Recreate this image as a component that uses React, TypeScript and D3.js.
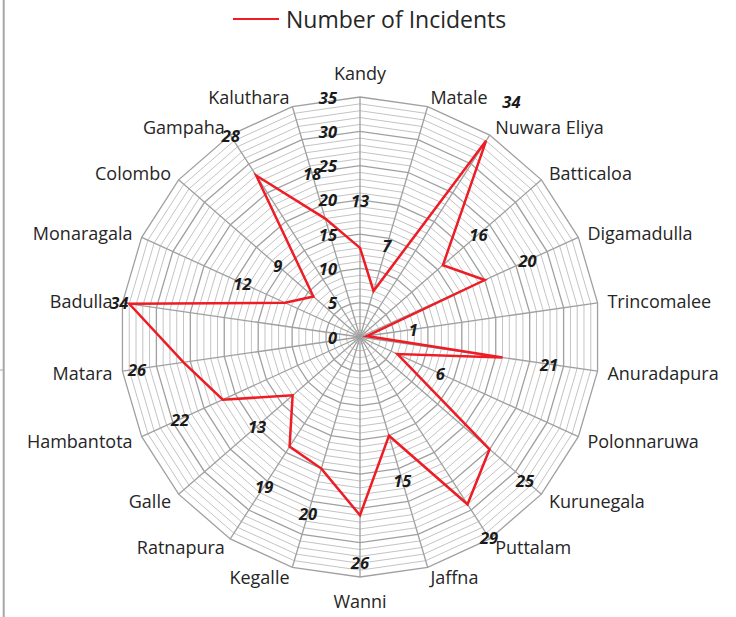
import React from "react";
import * as d3 from "d3";

const categories = [
  "Kandy", "Matale", "Nuwara Eliya", "Batticaloa", "Digamadulla", "Trincomalee",
  "Anuradapura", "Polonnaruwa", "Kurunegala", "Puttalam", "Jaffna", "Wanni",
  "Kegalle", "Ratnapura", "Galle", "Hambantota", "Matara", "Badulla",
  "Monaragala", "Colombo", "Gampaha", "Kaluthara",
];
const incidents = [13, 7, 34, 16, 20, 1, 21, 6, 25, 29, 15, 26, 20, 19, 13, 22, 26, 34, 12, 9, 28, 18];
const tickValues = [0, 5, 10, 15, 20, 25, 30, 35];
const seriesName = "Number of Incidents";

const W = 736;
const H = 617;
const CX = 360;
const CY = 337;
const R = 240;
const MAX = 35;
const FONT = "'Open Sans', 'Noto Sans', sans-serif";
const RED = "#ee1c25";

type Box = { x0: number; x1: number; y0: number; y1: number };

export default function App() {
  const N = categories.length;
  const r = d3.scaleLinear().domain([0, MAX]).range([0, R]);
  const ang = d3.scaleLinear().domain([0, N]).range([0, 2 * Math.PI]);
  const idx = d3.range(N);

  const ringPath = (v: number) =>
    d3.lineRadial<number>().angle((i) => ang(i)).radius(() => r(v)).curve(d3.curveLinearClosed)(idx) || "";

  const dataPath =
    d3.lineRadial<number>().angle((_, i) => ang(i)).radius((v) => r(v)).curve(d3.curveLinearClosed)(incidents) || "";

  const minor = d3.range(1, MAX + 1).filter((v) => v % 5 !== 0);
  const major = tickValues.filter((v) => v > 0);

  const px = (i: number, rad: number) => CX + rad * Math.sin(ang(i));
  const py = (i: number, rad: number) => CY - rad * Math.cos(ang(i));

  const plotLeft = 108;
  const labelFont = 16.5;
  const catFont = 18;

  // category label placement
  const cats = categories.map((c, i) => {
    const s = Math.sin(ang(i));
    const co = Math.cos(ang(i));
    const vx = px(i, R);
    const vy = py(i, R);
    let x = vx;
    let y = vy;
    let anchor: "start" | "middle" | "end" = "middle";
    if (Math.abs(s) < 0.05) {
      y = vy - co * 24;
    } else {
      anchor = s > 0 ? "start" : "end";
      x = vx + s * 10;
      y = vy - co * 10;
    }
    const w = c.length * 9;
    const x0 = anchor === "start" ? x : anchor === "end" ? x - w : x - w / 2;
    const box: Box = { x0, x1: x0 + w, y0: y - 7, y1: y + 7 };
    return { c, x, y, anchor, box };
  });

  const overlap = (a: Box, b: Box) =>
    Math.min(a.x1, b.x1) - Math.max(a.x0, b.x0) > 4 && Math.min(a.y1, b.y1) - Math.max(a.y0, b.y0) > 4;

  // data label placement
  const dataLabels = incidents.map((v, i) => {
    const w = String(v).length * 10;
    let rad = r(v) + 47;
    let x = px(i, rad);
    let y = py(i, rad);
    let guard = 0;
    while (guard < 40) {
      const b: Box = { x0: x - w / 2, x1: x + w / 2, y0: y - 6, y1: y + 6 };
      if (!overlap(b, cats[i].box)) break;
      rad -= 1;
      x = px(i, rad);
      y = py(i, rad);
      guard++;
    }
    if (x - w / 2 < plotLeft) x = plotLeft + w / 2;
    return { v, x, y };
  });

  return (
    <svg width={W} height={H} style={{ position: "absolute", left: 0, top: 0, background: "#fff" }}>
      <rect x={0} y={0} width={W} height={H} fill="#fff" />
      <line x1={3.7} x2={3.7} y1={0} y2={H} stroke="#a6a6a6" strokeWidth={2} />
      <line x1={0} x2={3.7} y1={370} y2={370} stroke="#a6a6a6" strokeWidth={1} />

      {/* legend */}
      <line x1={233} x2={279} y1={19} y2={19} stroke={RED} strokeWidth={2.2} />
      <text x={286} y={19} dominantBaseline="central" fontFamily={FONT} fontSize={23} fill="#262626">
        {seriesName}
      </text>

      {/* grid */}
      <g fill="none">
        {minor.map((v) => (
          <path key={"mi" + v} d={ringPath(v)} transform={`translate(${CX},${CY})`} stroke="#c4c4c4" strokeWidth={1} />
        ))}
        {major.map((v) => (
          <path key={"ma" + v} d={ringPath(v)} transform={`translate(${CX},${CY})`} stroke="#a0a0a0" strokeWidth={1.3} />
        ))}
        {idx.map((i) => (
          <line key={"sp" + i} x1={CX} y1={CY} x2={px(i, R)} y2={py(i, R)} stroke="#a0a0a0" strokeWidth={1.3} />
        ))}
      </g>

      {/* series */}
      <path d={dataPath} transform={`translate(${CX},${CY})`} fill="none" stroke={RED} strokeWidth={2.5} strokeLinejoin="miter" />

      {/* axis tick labels */}
      {tickValues.map((v) => (
        <text
          key={"t" + v}
          x={CX - 23}
          y={CY - r(v)}
          textAnchor="end"
          dominantBaseline="central"
          fontFamily={FONT}
          fontSize={labelFont}
          fontWeight="bold"
          fontStyle="italic"
          fill="#1a1a1a"
        >
          {v}
        </text>
      ))}

      {/* data labels */}
      {dataLabels.map((d, i) => (
        <text
          key={"d" + i}
          x={d.x}
          y={d.y}
          textAnchor="middle"
          dominantBaseline="central"
          fontFamily={FONT}
          fontSize={labelFont}
          fontWeight="bold"
          fontStyle="italic"
          fill="#1a1a1a"
        >
          {d.v}
        </text>
      ))}

      {/* category labels */}
      {cats.map((c, i) => (
        <text
          key={"c" + i}
          x={c.x}
          y={c.y}
          textAnchor={c.anchor}
          dominantBaseline="central"
          fontFamily={FONT}
          fontSize={catFont}
          fill="#262626"
        >
          {c.c}
        </text>
      ))}
    </svg>
  );
}
